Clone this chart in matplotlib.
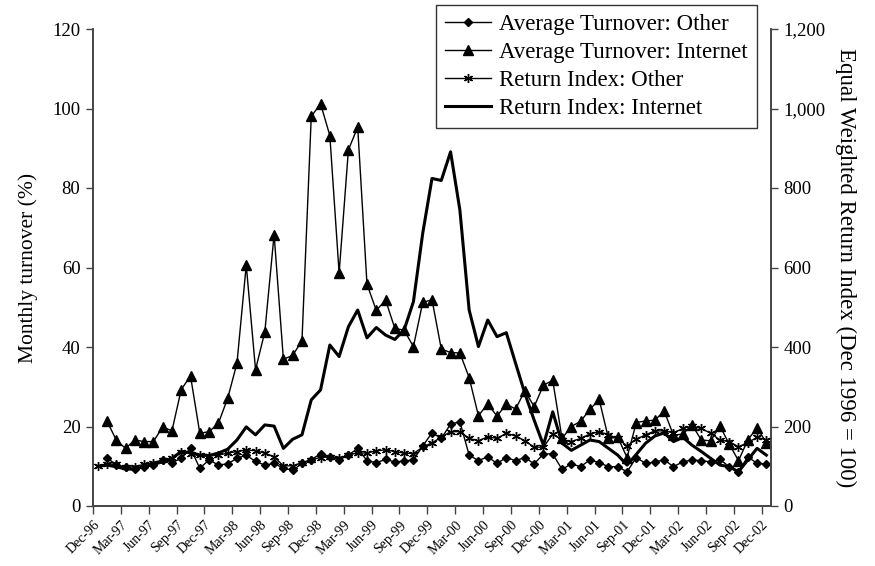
import numpy as np
import matplotlib
matplotlib.use("Agg")
import matplotlib.pyplot as plt
from matplotlib.ticker import FuncFormatter

tick_labels = ['Dec-96', 'Mar-97', 'Jun-97', 'Sep-97', 'Dec-97', 'Mar-98', 'Jun-98', 'Sep-98',
               'Dec-98', 'Mar-99', 'Jun-99', 'Sep-99', 'Dec-99', 'Mar-00', 'Jun-00', 'Sep-00',
               'Dec-00', 'Mar-01', 'Jun-01', 'Sep-01', 'Dec-01', 'Mar-02', 'Jun-02', 'Sep-02', 'Dec-02']

# Monthly turnover (%), Jan-97 .. Dec-02
turnover_other = [12.2, 10.3, 9.7, 9.2, 9.9, 10.3, 11.6, 10.9, 12.0, 14.5, 9.5, 11.6,
                  10.3, 10.6, 12.0, 12.8, 11.2, 10.3, 10.7, 9.5, 9.0, 10.7, 11.6, 13.2,
                  12.4, 11.6, 12.8, 14.5, 11.4, 10.9, 11.7, 11.1, 11.3, 11.6, 15.1, 18.4,
                  17.0, 20.6, 21.2, 12.8, 11.4, 12.4, 10.7, 12.2, 11.4, 12.2, 10.6, 13.1,
                  13.1, 9.2, 10.6, 9.9, 11.6, 10.9, 9.9, 9.9, 8.6, 12.2, 10.7, 11.1,
                  11.6, 9.9, 11.1, 11.6, 11.4, 11.1, 11.7, 9.9, 8.6, 12.4, 10.7, 10.6]
turnover_internet = [21.4, 16.6, 14.5, 16.6, 16.2, 16.2, 19.9, 18.9, 29.3, 32.7, 18.3, 18.7,
                     20.8, 27.1, 35.9, 60.6, 34.3, 43.8, 68.3, 36.9, 37.9, 41.6, 98.0, 101.2,
                     93.2, 58.6, 89.6, 95.3, 55.8, 49.2, 51.8, 44.7, 44.2, 40.1, 51.2, 51.9,
                     39.5, 38.6, 38.5, 32.3, 22.7, 25.7, 22.6, 25.6, 24.4, 29.0, 25.0, 30.4,
                     31.6, 17.0, 20.0, 21.3, 24.3, 26.8, 17.0, 17.3, 12.2, 21.0, 21.4, 21.6,
                     23.9, 17.8, 18.1, 20.4, 16.6, 16.4, 20.1, 15.6, 11.4, 16.6, 19.7, 15.9]
# Equal weighted return index (Dec 1996 = 100), Dec-96 .. Dec-02
index_other = [100, 106, 105, 97, 99, 105, 109, 116, 120, 137, 131, 128, 126,
               128, 133, 137, 141, 139, 133, 124, 101, 101, 109, 116, 122,
               124, 120, 128, 134, 133, 139, 141, 137, 133, 132, 148, 159,
               173, 187, 187, 170, 164, 174, 170, 183, 176, 164, 148, 148,
               181, 166, 162, 170, 181, 187, 179, 170, 151, 168, 179, 189,
               189, 184, 195, 201, 195, 183, 166, 162, 149, 159, 173, 166]
index_internet = [100, 103, 99, 93, 93, 99, 105, 111, 120, 137, 134, 128, 127,
                  133, 143, 166, 199, 179, 204, 201, 145, 168, 179, 267, 292,
                  405, 376, 451, 493, 423, 449, 430, 419, 443, 514, 686, 824,
                  819, 891, 745, 493, 401, 468, 426, 436, 359, 283, 216, 153,
                  237, 158, 140, 153, 166, 162, 145, 128, 103, 130, 158, 176,
                  184, 162, 173, 153, 137, 120, 103, 99, 86, 116, 145, 128]

plt.rcParams['font.family'] = ['Liberation Serif', 'DejaVu Serif']

fig = plt.figure(figsize=(8.75, 5.66), dpi=100)
ax = fig.add_axes([93/875, 1-506/566, (771-93)/875, (506-29)/566])
ax2 = ax.twinx()

x_idx = np.arange(len(index_internet))
x_turn = x_idx[1:]

spine_c = '#444444'
l1, = ax.plot(x_turn, turnover_other, color='black', lw=1.0, marker='D', ms=4.5,
              label='Average Turnover: Other')
l2, = ax.plot(x_turn, turnover_internet, color='black', lw=1.0, marker='^', ms=6.5,
              label='Average Turnover: Internet')
l3, = ax2.plot(x_idx, index_other, color='black', lw=1.0, marker=(6, 2, 0), ms=6.5,
               mew=1.0, label='Return Index: Other')
l4, = ax2.plot(x_idx, index_internet, color='black', lw=2.2, label='Return Index: Internet')

ax.set_xlim(-0.5, len(x_idx) - 0.5)
ax.set_ylim(0, 120)
ax2.set_ylim(0, 1200)
ax.set_yticks(np.arange(0, 121, 20))
ax2.set_yticks(np.arange(0, 1201, 200))
ax2.yaxis.set_major_formatter(FuncFormatter(lambda v, p: f'{int(v):,}'))

ax.set_xticks(np.arange(len(tick_labels)) * 3 - 0.5)
ax.set_xticklabels(tick_labels, rotation=45, ha='right', rotation_mode='anchor')

for a in (ax, ax2):
    a.spines['top'].set_visible(False)
    for s in ('left', 'right', 'bottom'):
        a.spines[s].set_color(spine_c)
        a.spines[s].set_linewidth(1.2)
    a.tick_params(colors='black', length=5, width=1.0, labelsize=13.5, pad=4)
    a.tick_params(axis='both', color=spine_c)
ax.tick_params(axis='x', labelsize=10, length=6, pad=3)

ax.set_ylabel('Monthly turnover (%)', fontsize=15.5, labelpad=10)
ax2.set_ylabel('Equal Weighted Return Index (Dec 1996 = 100)', fontsize=16.5,
               rotation=-90, labelpad=22)

leg = ax.legend(handles=[l1, l2, l3, l4], loc='upper right', bbox_to_anchor=(0.979, 1.05),
                fontsize=16.5, frameon=True, fancybox=False, handlelength=2.0,
                borderpad=0.4, labelspacing=0.3, handletextpad=0.35, borderaxespad=0.0)
leg.get_frame().set_edgecolor('black')
leg.get_frame().set_linewidth(1.0)
leg.set_zorder(10)

fig.savefig('out.png', dpi=100)
